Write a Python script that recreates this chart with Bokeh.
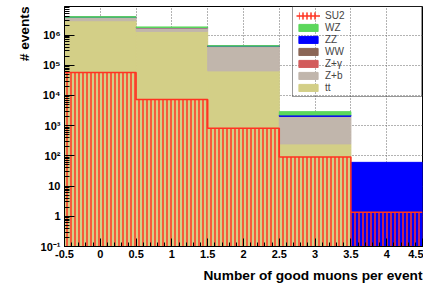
import numpy as np
from bokeh.plotting import figure
from bokeh.models import (ColumnDataSource, FixedTicker, CustomJSTickFormatter,
                          Legend, LegendItem, Range1d, Title)
from bokeh.embed import file_html
from bokeh.resources import INLINE

# ---------------- data ----------------
bin_edges = [-0.5, 0.5, 1.5, 2.5, 3.5, 4.5]
tt    = [2.98e6, 1.32e6, 6.5e4, 249, 0]
zb    = [0.85e6, 0.42e6, 3.5e5, 1770, 0]
zgam  = [3.0e4, 1.5e4, 1.0e4, 12, 0]
ww    = [2.0e4, 1.0e4, 2.0e3, 6, 0]
zz    = [1.0e4, 5.0e3, 3.0e3, 228, 61]
wz    = [1.5e5, 8.0e4, 1.0e4, 645, 0]
su2   = [5.7e4, 7.3e3, 820, 91, 1.36]

x_tick_vals = [-0.5, 0, 0.5, 1, 1.5, 2, 2.5, 3, 3.5, 4, 4.5]
x_tick_labels = ["-0.5", "0", "0.5", "1", "1.5", "2", "2.5", "3", "3.5", "4", "4.5"]
y_tick_vals = [0.1, 1, 10, 100, 1e3, 1e4, 1e5, 1e6]
y_tick_labels = ["10\u207b\u00b9", "1", "10", "10\u00b2", "10\u00b3", "10\u2074", "10\u2075", "10\u2076"]

stack = [("tt", tt, "#d3cf87"),
         ("Z+b", zb, "#c1b6ac"),
         ("Z+\u03b3", zgam, "#d25c5c"),
         ("WW", ww, "#8b6656"),
         ("ZZ", zz, "#0000ff"),
         ("WZ", wz, "#5bd75b")]

RED = "#ff3322"
FONT = "Liberation Sans"
Y_BOTTOM, Y_TOP = 0.1, 8.8e6
FLOOR = 1e-3

p = figure(width=423, height=289, y_axis_type="log",
           x_range=Range1d(-0.5, 4.5), y_range=Range1d(Y_BOTTOM, Y_TOP),
           output_backend="svg", toolbar_location=None,
           min_border_left=64, min_border_right=1, min_border_top=6,
           min_border_bottom=43)
p.outline_line_color = "black"
p.outline_line_width = 1
p.background_fill_color = "white"
p.border_fill_color = "white"

lefts = np.array(bin_edges[:-1])
rights = np.array(bin_edges[1:])
cum = np.zeros(len(lefts))
rend = {}
for name, vals, color in stack:
    v = np.array(vals, dtype=float)
    bottom = cum.copy()
    top = cum + v
    m = v > 0
    src = ColumnDataSource(dict(left=lefts[m], right=rights[m],
                                bottom=np.where(bottom[m] > 0, bottom[m], FLOOR),
                                top=top[m]))
    rend[name] = p.quad(left="left", right="right", bottom="bottom", top="top",
                        source=src, fill_color=color, line_color=color, line_width=1)
    cum = top

su2_src = ColumnDataSource(dict(left=lefts, right=rights,
                                bottom=[FLOOR] * len(su2), top=su2))
su2_hatch = p.quad(left="left", right="right", bottom="bottom", top="top",
                   source=su2_src, fill_alpha=0, line_alpha=0,
                   hatch_pattern="|", hatch_color=RED, hatch_scale=4,
                   hatch_weight=1.5)
su2_step = p.step(x=bin_edges, y=su2 + [su2[-1]], mode="after",
                  line_color=RED, line_width=1.5)
su2_mark = p.scatter(x=[], y=[], marker="square", size=4, color=RED)

# ---------------- axes ----------------
minor_x = [round(v, 2) for v in np.arange(-0.5, 4.5001, 0.1)]
p.xaxis.ticker = FixedTicker(ticks=x_tick_vals, minor_ticks=minor_x)
minor_y = [m * 10.0 ** d for d in range(-1, 7) for m in range(2, 10)]
p.yaxis.ticker = FixedTicker(ticks=y_tick_vals, minor_ticks=minor_y)

fmt_code = """
for (let i = 0; i < vals.length; i++) {
  if (Math.abs(tick - vals[i]) <= 1e-6 * Math.max(1e-3, Math.abs(vals[i]))) return labels[i];
}
return "";
"""
p.xaxis.formatter = CustomJSTickFormatter(args=dict(vals=x_tick_vals, labels=x_tick_labels), code=fmt_code)
p.yaxis.formatter = CustomJSTickFormatter(args=dict(vals=y_tick_vals, labels=y_tick_labels), code=fmt_code)

for ax, mj, mn in ((p.xaxis[0], 8, 4), (p.yaxis[0], 10, 5)):
    ax.major_tick_in = mj
    ax.major_tick_out = 0
    ax.minor_tick_in = mn
    ax.minor_tick_out = 0
    ax.major_tick_line_color = "black"
    ax.minor_tick_line_color = "black"
    ax.axis_line_color = "black"
    ax.major_label_standoff = 4
    ax.major_label_text_font = FONT
    ax.major_label_text_font_style = "bold"
    ax.major_label_text_font_size = "11px"
    ax.major_label_text_color = "black"
p.xaxis.major_label_standoff = 3

for g in (p.xgrid[0], p.ygrid[0]):
    g.grid_line_color = "#666666"
    g.grid_line_dash = "1 2"
    g.grid_line_width = 1
p.xgrid.ticker = FixedTicker(ticks=x_tick_vals)
p.ygrid.ticker = FixedTicker(ticks=y_tick_vals)

# ---------------- titles ----------------
title_kw = dict(align="right", text_font=FONT, text_font_style="bold",
                text_font_size="13.7px", text_color="black")
ty = Title(text="# events", standoff=12, **title_kw)
tx = Title(text="Number of good muons per event", standoff=11, **title_kw)
p.add_layout(ty, "left")
p.add_layout(tx, "below")

# ---------------- legend ----------------
items = [LegendItem(label="SU2", renderers=[su2_hatch, su2_step, su2_mark])]
for name in ["WZ", "ZZ", "WW", "Z+\u03b3", "Z+b", "tt"]:
    items.append(LegendItem(label=name, renderers=[rend[name]]))
legend = Legend(items=items, location="top_right", margin=0, padding=3, spacing=1,
                background_fill_alpha=0, border_line_color="#333333",
                border_line_width=1.5, glyph_width=24, glyph_height=9,
                label_height=9, label_width=93, label_standoff=5,
                label_text_font=FONT, label_text_font_size="10px",
                label_text_baseline="middle")
p.add_layout(legend)

open("out.html", "w").write(file_html(p, INLINE))
